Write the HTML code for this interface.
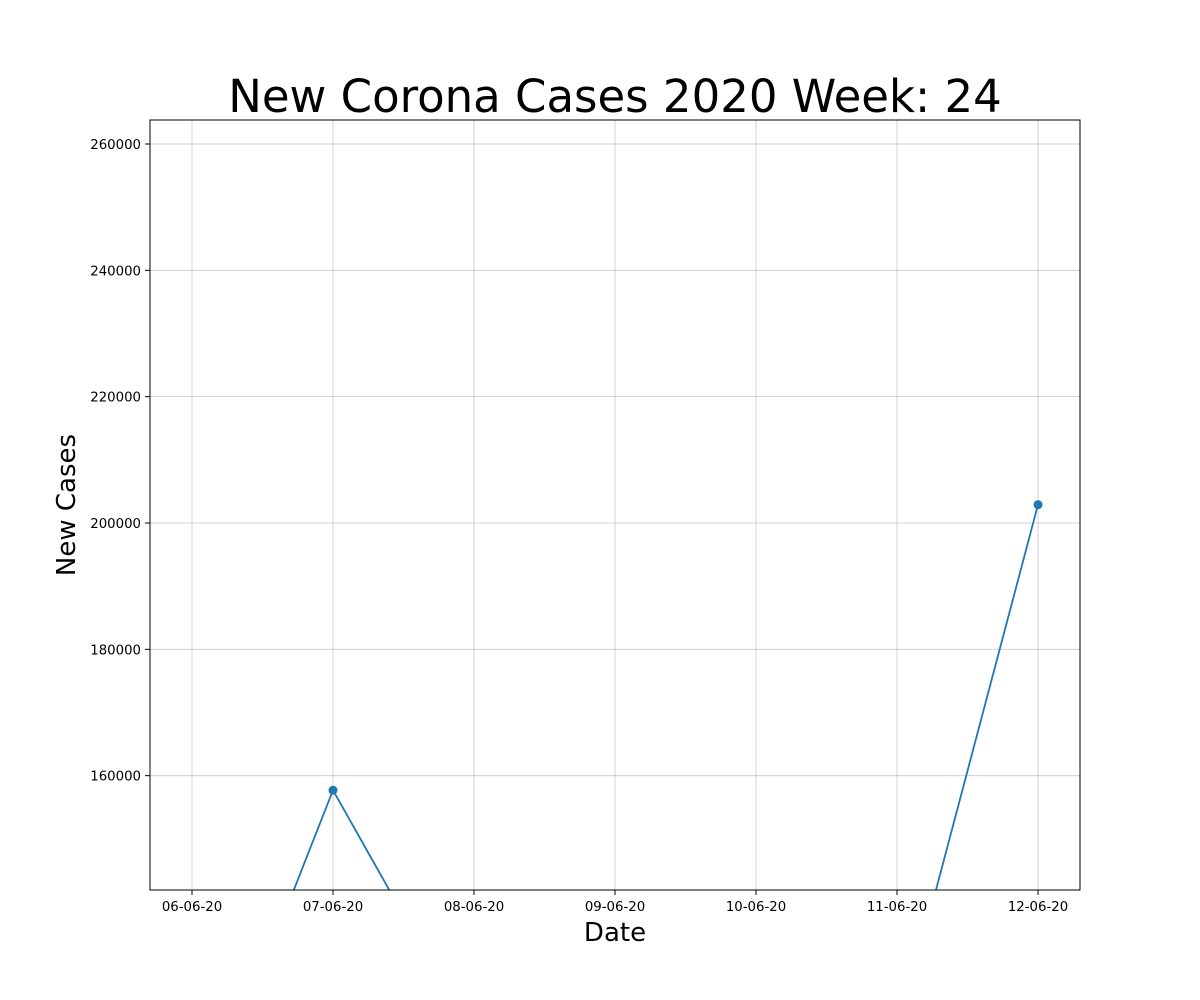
<!DOCTYPE html>
<html><head><meta charset="utf-8"><style>
html,body{margin:0;padding:0;background:#fff;overflow:hidden;width:1200px;height:1000px;}
svg{display:block;}
svg text{font-family:"DejaVu Sans","Liberation Sans",sans-serif;}
</style></head><body>
<svg id="chart" width="1200" height="1000">
<defs><clipPath id="plotclip"><rect x="150" y="120" width="930" height="770"/></clipPath></defs>
<text x="615" y="112" font-size="45" text-anchor="middle">New Corona Cases 2020 Week: 24</text>
<g id="grid"></g>
<g id="series" clip-path="url(#plotclip)"></g>
<rect x="150" y="120" width="930" height="770" fill="none" stroke="#000" stroke-width="1"/>
<g id="xticks"></g><g id="yticks"></g>
<text x="615" y="941" font-size="26" text-anchor="middle">Date</text>
<text x="75" y="505" font-size="26" text-anchor="middle" transform="rotate(-90 75 505)">New Cases</text>
</svg>
<script>
const categories = ["06-06-20","07-06-20","08-06-20","09-06-20","10-06-20","11-06-20","12-06-20"];
const values = [100900,157700,118100,121000,110000,118600,202900];
const yTicks = [160000,180000,200000,220000,240000,260000];
const yMin = 141900, yMax = 263800;
const NS = "http://www.w3.org/2000/svg";
function xPos(i){return 192 + i*141;}
function yPos(v){return 890 - (v - yMin)/(yMax - yMin)*770;}
function mk(tag, attrs, parent){const e=document.createElementNS(NS,tag);for(const k in attrs)e.setAttribute(k,attrs[k]);parent.appendChild(e);return e;}
const grid=document.getElementById('grid'), xt=document.getElementById('xticks'), yt=document.getElementById('yticks'), ser=document.getElementById('series');
categories.forEach((c,i)=>{
  const x=xPos(i);
  const g=mk('line',{x1:x,x2:x,y1:120,y2:890,stroke:'#b0b0b0','stroke-width':0.8,'stroke-opacity':0.7},grid);
  
  
  const t=mk('line',{x1:x,x2:x,y1:890,y2:895,stroke:'#000'},xt);
  
  
  const l=mk('text',{x:x,y:911,'font-size':13.3,'text-anchor':'middle'},xt);
  l.textContent=c;
  
  
});
yTicks.forEach(v=>{
  const y=yPos(v);
  const g=mk('line',{x1:150,x2:1080,y1:y,y2:y,stroke:'#b0b0b0','stroke-width':0.8,'stroke-opacity':0.7},grid);
  
  
  const t=mk('line',{x1:145,x2:150,y1:y,y2:y,stroke:'#000'},yt);
  
  
  const l=mk('text',{x:141,y:y+5,'font-size':13.3,'text-anchor':'end'},yt);
  l.textContent=v;
  
  
});
const pts=values.map((v,i)=>xPos(i)+','+yPos(v)).join(' ');
const pl=mk('polyline',{points:pts,fill:'none',stroke:'#1f77b4','stroke-width':1.8},ser);


values.forEach((v,i)=>{
  const c=mk('circle',{cx:xPos(i),cy:yPos(v),r:4.5,fill:'#1f77b4'},ser);
  
  
});
</script>
</body></html>
